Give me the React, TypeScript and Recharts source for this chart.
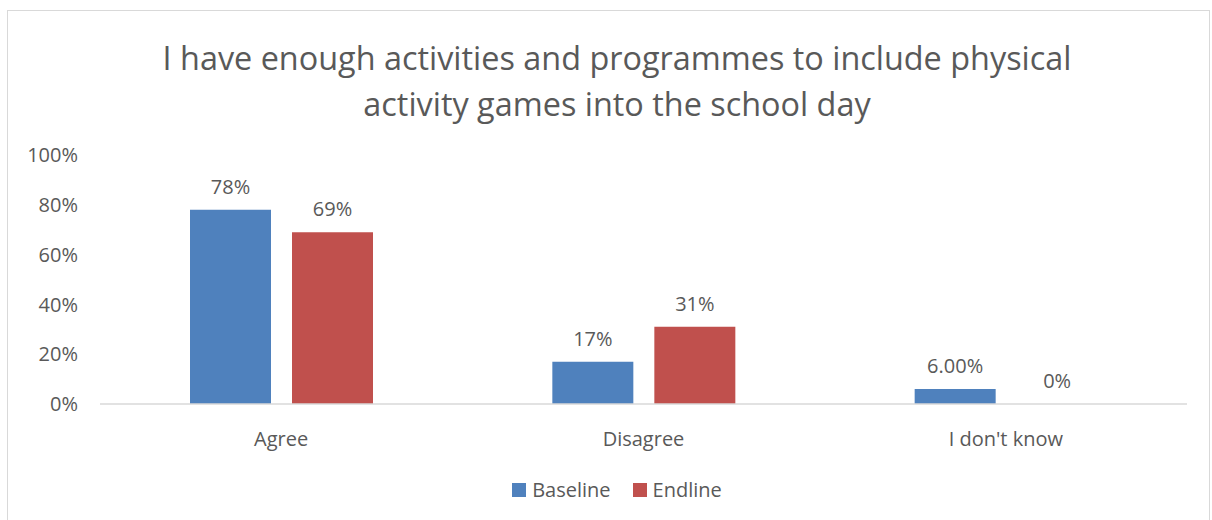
import { BarChart, Bar, XAxis, YAxis, Legend, Rectangle } from "recharts";

const categories = ["Agree", "Disagree", "I don't know"];
const baseline = [0.78, 0.17, 0.06];
const endline = [0.69, 0.31, 0];
const baselineLabels = ["78%", "17%", "6.00%"];
const endlineLabels = ["69%", "31%", "0%"];
const yTicks = [0, 0.2, 0.4, 0.6, 0.8, 1];

const data = categories.map((c, i) => ({
  name: c,
  baseline: baseline[i],
  endline: endline[i],
}));

const FONT = "'Open Sans', sans-serif";
const TEXT = "#595959";

// value labels; the label sits on the bar's top edge (baseline for a 0 bar)
const makeLabel = (values: number[], labels: string[]) => (props: any) => {
  const { x, y, width, height, index } = props;
  const top = values[index] === 0 ? Number(y) + Number(height) : Number(y);
  return (
    <text
      x={Number(x) + Number(width) / 2}
      y={top - 16}
      textAnchor="middle"
      fill={TEXT}
      fontSize={20}
      fontFamily={FONT}
    >
      {labels[index]}
    </text>
  );
};

// zero values keep a 1px slot (minPointSize) so the label is drawn, but no rect
const makeShape = (values: number[]) => (props: any) =>
  values[props.index] === 0 ? <g /> : <Rectangle {...props} />;

const renderLegend = (props: any) => (
  <div
    style={{
      display: "flex",
      justifyContent: "center",
      gap: 22,
      fontFamily: FONT,
      fontSize: 20,
      color: TEXT,
    }}
  >
    {props.payload.map((p: any) => (
      <div key={p.value} style={{ display: "flex", alignItems: "center" }}>
        <span
          style={{
            display: "inline-block",
            width: 14,
            height: 14,
            background: p.color,
            marginRight: 6,
          }}
        />
        <span>{p.value}</span>
      </div>
    ))}
  </div>
);

export default function App() {
  return (
    <div
      style={{
        position: "absolute",
        left: 0,
        top: 0,
        width: 1212,
        height: 520,
        background: "#fff",
        fontFamily: FONT,
      }}
    >
      <div
        style={{
          position: "absolute",
          left: 7,
          top: 10,
          width: 1203,
          height: 520,
          border: "1px solid #D9D9D9",
          boxSizing: "border-box",
        }}
      />
      <div
        style={{
          position: "absolute",
          left: 0,
          top: 34,
          width: 1234,
          textAlign: "center",
          fontSize: 32.4,
          lineHeight: "46px",
          color: TEXT,
        }}
      >
        I have enough activities and programmes to include physical
        <br />
        activity games into the school day
      </div>
      <BarChart
        width={1212}
        height={520}
        data={data}
        margin={{ top: 155, right: 25, left: 0, bottom: 0 }}
        barCategoryGap={90}
        barGap={21}
        style={{ position: "absolute", left: 0, top: 0 }}
      >
        <XAxis
          dataKey="name"
          axisLine={{ stroke: "#D9D9D9", strokeWidth: 1.5 }}
          tickLine={false}
          tickMargin={22}
          tick={{ fill: TEXT, fontSize: 20, fontFamily: FONT }}
          height={116}
        />
        <YAxis
          domain={[0, 1]}
          ticks={yTicks}
          width={100}
          axisLine={false}
          tickLine={false}
          tickMargin={16}
          tickFormatter={(v: number) => `${Math.round(v * 100)}%`}
          tick={{ fill: TEXT, fontSize: 20, fontFamily: FONT }}
        />
        <Legend
          content={renderLegend}
          wrapperStyle={{ top: 476, left: 0, width: 1234, height: 0 }}
        />
        <Bar
          dataKey="baseline"
          name="Baseline"
          fill="#4F81BD"
          isAnimationActive={false}
          minPointSize={1}
          shape={makeShape(baseline)}
          label={makeLabel(baseline, baselineLabels)}
        />
        <Bar
          dataKey="endline"
          name="Endline"
          fill="#C0504D"
          isAnimationActive={false}
          minPointSize={1}
          shape={makeShape(endline)}
          label={makeLabel(endline, endlineLabels)}
        />
      </BarChart>
    </div>
  );
}
